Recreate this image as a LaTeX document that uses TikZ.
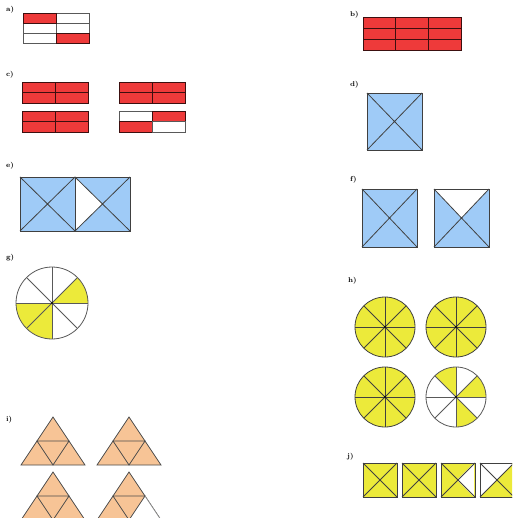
\documentclass[tikz,border=0pt]{standalone}
\usepackage{tikz}
\usetikzlibrary{positioning}
\definecolor{fracred}{HTML}{EE3A3A}
\definecolor{fracblue}{HTML}{9FCBF7}
\definecolor{fracyellow}{HTML}{ECEA3A}
\definecolor{fracorange}{HTML}{F7C496}
\tikzset{
  lbl/.style={font=\fontsize{7}{8}\selectfont\bfseries, inner sep=0pt, anchor=west},
  edge/.style={draw=black!65, line width=0.8pt},
  redcell/.style={edge, draw=black!75!fracred, fill=fracred},
  blank/.style={edge, fill=white},
  bluesq/.style={edge, draw=black!75, fill=fracblue},
  yelsq/.style={edge, draw=black!75, fill=fracyellow},
  tri/.style={edge, draw=black!70, fill=fracorange},
}

\begin{document}
\begin{tikzpicture}[x=1pt, y=-1pt]
  \clip (0,0) rectangle (512,518);
  \fill[white] (0,0) rectangle (512,518);

  % a) two of six cells
  \node[lbl] (lbla) at (6,10) {a)};
  \foreach \i in {0,1}
    \foreach \j in {0,1,2}
      \draw[blank] ({23+33*\i},{13+10*\j}) rectangle +(33,10);
  \draw[redcell] (23,13) rectangle +(33,10);
  \draw[redcell] (56,33) rectangle +(33,10);

  % b) whole grid red
  \node[lbl] (lblb) at (350,15) {b)};
  \foreach \i in {0,1,2}
    \foreach \j in {0,1,2}
      \draw[redcell] ({363+32.7*\i},{17+11*\j}) rectangle +(32.7,11);

  % c) four bars of four cells
  \node[lbl] (lblc) at (6,75) {c)};
  \foreach \ox/\oy in {22/82, 119/82, 22/111}
    \foreach \i in {0,1}
      \foreach \j in {0,1}
        \draw[redcell] ({\ox+33*\i},{\oy+10.5*\j}) rectangle +(33,10.5);
  \draw[blank]   (119,111) rectangle +(33,10.5);
  \draw[redcell] (152,111) rectangle +(33,10.5);
  \draw[redcell] (119,121.5) rectangle +(33,10.5);
  \draw[blank]   (152,121.5) rectangle +(33,10.5);

  % d) one square
  \node[lbl] (lbld) at (350,85) {d)};
  \draw[bluesq] (367,93) rectangle (422,150);
  \draw[edge, draw=black!75] (367,93) -- (422,150) (422,93) -- (367,150);

  % e) two squares, one quarter white
  \node[lbl] (lble) at (6,166) {e)};
  \foreach \ox in {20,75} {
    \draw[bluesq] (\ox,177) rectangle +(55,54);
  }
  \fill[white] (75,177) -- (102.5,204) -- (75,231) -- cycle;
  \foreach \ox in {20,75} {
    \draw[edge, draw=black!75] (\ox,177) rectangle +(55,54);
    \draw[edge, draw=black!75] (\ox,177) -- +(55,54) ({\ox+55},177) -- +(-55,54);
  }

  % f) two squares, top quarter white
  \node[lbl] (lblf) at (350,180) {f)};
  \foreach \ox in {362,434} {
    \draw[bluesq] (\ox,189) rectangle +(55,58);
  }
  \fill[white] (434,189) -- (461.5,218) -- (489,189) -- cycle;
  \foreach \ox in {362,434} {
    \draw[edge, draw=black!75] (\ox,189) rectangle +(55,58);
    \draw[edge, draw=black!75] (\ox,189) -- +(55,58) ({\ox+55},189) -- +(-55,58);
  }

  % g) circle in eighths
  \node[lbl] (lblg) at (6,258) {g)};
  \begin{scope}[shift={(52,303)}, yscale=-1]
    \fill[white] (0,0) circle[radius=36];
    \foreach \a in {0,180,225}
      \fill[fracyellow] (0,0) -- (\a:36) arc[start angle=\a, delta angle=45, radius=36] -- cycle;
    \foreach \a in {0,45,90,135}
      \draw[edge] (\a:36) -- (\a+180:36);
    \draw[edge] (0,0) circle[radius=36];
    \fill[black] (0,0) circle[radius=1.2];
  \end{scope}

  % h) four circles in eighths
  \node[lbl] (lblh) at (348,281) {h)};
  \foreach \cx/\cy in {385/327, 456/327, 385/397} {
    \begin{scope}[shift={(\cx,\cy)}, yscale=-1]
      \draw[edge, draw=black!75, fill=fracyellow] (0,0) circle[radius=30];
      \foreach \a in {0,45,90,135}
        \draw[edge, draw=black!75] (\a:30) -- (\a+180:30);
      \fill[black] (0,0) circle[radius=1.2];
    \end{scope}
  }
  \begin{scope}[shift={(456,397)}, yscale=-1]
    \fill[white] (0,0) circle[radius=30];
    \foreach \a in {0,90,270}
      \fill[fracyellow] (0,0) -- (\a:30) arc[start angle=\a, delta angle=45, radius=30] -- cycle;
    \foreach \a in {0,45,90,135}
      \draw[edge] (\a:30) -- (\a+180:30);
    \draw[edge] (0,0) circle[radius=30];
    \fill[black] (0,0) circle[radius=1.2];
  \end{scope}

  % i) triangles in quarters
  \node[lbl] (lbli) at (6,420) {i)};
  \foreach \tx/\ty in {53/417, 129/417, 53/472, 129/472} {
    \draw[tri] (\tx,\ty) -- ({\tx-32},{\ty+48}) -- ({\tx+32},{\ty+48}) -- cycle;
  }
  \fill[white] (145,496) -- (161,520) -- (129,520) -- cycle;
  \foreach \tx/\ty in {53/417, 129/417, 53/472, 129/472} {
    \draw[edge, draw=black!70] ({\tx-16},{\ty+24}) -- ({\tx+16},{\ty+24})
      -- (\tx,{\ty+48}) -- cycle;
  }
  \draw[edge, draw=black!45] (145,496) -- (161,520);

  % j) four squares, 14 of 16 parts
  \node[lbl] (lblj) at (347,457) {j)};
  \foreach \ox in {363,402,441,480} {
    \draw[yelsq] (\ox,463) rectangle +(34,34);
  }
  \fill[white] (474,463) -- (457,480) -- (474,497) -- cycle;
  \fill[white] (480,497) -- (480,463) -- (514,463) -- (497,480) -- cycle;
  \foreach \ox in {363,402,441,480} {
    \draw[edge, draw=black!75] (\ox,463) rectangle +(34,34);
    \draw[edge, draw=black!75] (\ox,463) -- +(34,34) ({\ox+34},463) -- +(-34,34);
  }
\end{tikzpicture}
\end{document}
